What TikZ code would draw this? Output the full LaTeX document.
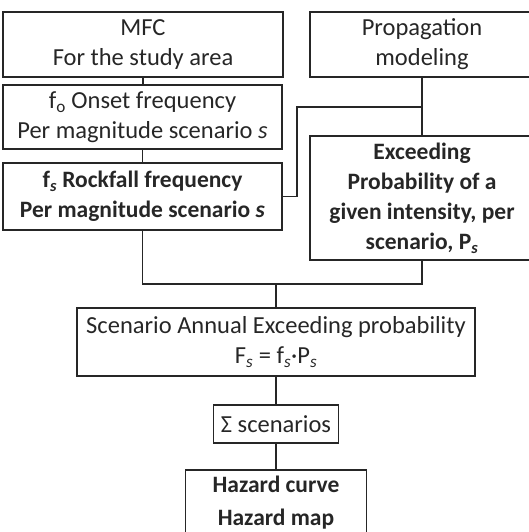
\documentclass[tikz,border=0pt]{standalone}
\usepackage{fontspec}
\setmainfont{Carlito}
\newcommand{\sub}{\textsubscript{\textit{s}}}
\begin{document}
\begin{tikzpicture}[x=1pt, y=-1pt, line width=1.4pt,
  box/.style={draw=black!85, text=black!85, inner sep=0pt, align=center, font=\fontsize{24.5}{30}\selectfont},
  boldbox/.style={box, font=\fontsize{23.5}{30}\selectfont\bfseries}]
\useasboundingbox (0,0) rectangle (529,532);
\clip (0,0) rectangle (529,532);
%%% left column
\node[box, minimum width=280, minimum height=65] (mfc) at (143,44.5) {MFC\\For the study area};
\node[box, minimum width=279, minimum height=64] (onset) at (142.5,117) {f\textsubscript{o} Onset frequency\\Per magnitude scenario \textit{s}};
\node[boldbox, minimum width=279, minimum height=67] (rockfall) at (142.5,196.5) {f\sub{} Rockfall frequency\\Per magnitude scenario \textit{s}};
%%% right column
\node[box, minimum width=224, minimum height=65] (prop) at (422,44.5) {Propagation\\modeling};
\node[boldbox, minimum width=224, minimum height=124] (exceed) at (422,198) {Exceeding\\Probability of a\\given intensity, per\\scenario, P\sub};
%%% bottom chain
\node[box, minimum width=398, minimum height=68] (scen) at (276,342) {Scenario Annual Exceeding probability\\F\sub{} = f\sub{}·P\sub};
\node[box, minimum width=125, minimum height=38] (sum) at (276,424) {Σ scenarios};
\node[boldbox, font=\fontsize{23.5}{33}\selectfont\bfseries, minimum width=181, minimum height=66] (hazard) at (276,503) {Hazard curve\\Hazard map};
% connectors
\coordinate (join) at (276,284);
\coordinate (branch) at (422,107);
\coordinate (bend) at (297,196.5);
\draw[black!85] (mfc.south) -- (mfc.south |- onset.north);
\draw[black!85] (onset.south) -- (onset.south |- rockfall.north);
\draw[black!85] (rockfall.south) |- (join) -| (exceed.south);
\draw[black!85] (join) -- (scen.north);
\draw[black!85] (prop.south) -- (exceed.north);
\draw[black!85] (branch) -| (bend) -- (rockfall.east);
\draw[black!85] (scen.south) -- (sum.north);
\draw[black!85] (sum.south) -- (hazard.north);
\end{tikzpicture}
\end{document}
